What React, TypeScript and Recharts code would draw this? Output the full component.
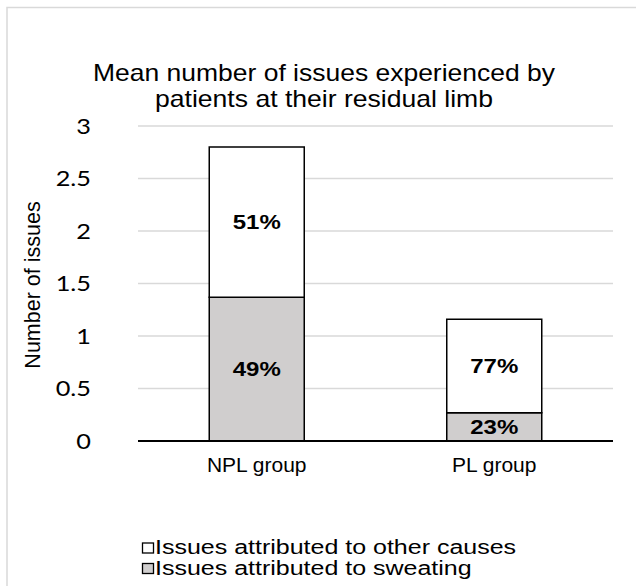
import * as React from 'react';
import { Bar, BarChart, CartesianGrid, LabelList, XAxis, YAxis } from 'recharts';

const groups = ['NPL group', 'PL group'];
const sweating = [1.37, 0.27];
const otherCauses = [1.43, 0.89];
const sweatingPct = ['49%', '23%'];
const otherPct = ['51%', '77%'];
const yTicks = [0, 0.5, 1, 1.5, 2, 2.5, 3];

const titleLines = [
  'Mean number of issues experienced by',
  'patients at their residual limb',
];
const legendItems = [
  { label: 'Issues attributed to other causes', fill: '#ffffff' },
  { label: 'Issues attributed to sweating', fill: '#d0cece' },
];

const data = groups.map((group, i) => ({
  group,
  sweating: sweating[i],
  other: otherCauses[i],
  sweatingPct: sweatingPct[i],
  otherPct: otherPct[i],
}));

const ARIAL = 'Arial, "Liberation Sans", sans-serif';
const SX = 1.15; // the reference text looks stretched sideways

const stretch = (x: number, y: number, k = SX) =>
  `translate(${x} ${y}) scale(${k} 1) translate(${-x} ${-y})`;

// y tick labels, Calibri-like
function YTick(props: any) {
  const { x, y, payload } = props;
  return (
    <text
      x={x}
      y={y}
      dy='0.36em'
      textAnchor='end'
      fontFamily='Lato, "Open Sans", sans-serif'
      fontSize={22}
      fill='#000'
      transform={stretch(x, y)}
    >
      {payload.value}
    </text>
  );
}

function XTick(props: any) {
  const { x, y, payload } = props;
  return (
    <text
      x={x}
      y={y}
      dy='0.71em'
      textAnchor='middle'
      fontFamily={ARIAL}
      fontSize={20}
      fill='#000'
      transform={stretch(x, y, 1.05)}
    >
      {payload.value}
    </text>
  );
}

function PctLabel(props: any) {
  const { x, y, width, height, value } = props;
  const cx = x + width / 2;
  const cy = y + height / 2;
  return (
    <text
      x={cx}
      y={cy}
      dy='0.35em'
      textAnchor='middle'
      fontFamily={ARIAL}
      fontWeight='bold'
      fontSize={20}
      fill='#000'
      transform={stretch(cx, cy, 1.2)}
    >
      {value}
    </text>
  );
}

export default function App() {
  return (
    <div
      style={{
        position: 'absolute',
        left: 0,
        top: 0,
        width: 636,
        height: 586,
        background: '#fff',
      }}
    >
      <BarChart
        width={636}
        height={586}
        data={data}
        margin={{ top: 126, right: 23, left: 78, bottom: 115 }}
        barCategoryGap='30%'
      >
        <CartesianGrid vertical={false} stroke='#d9d9d9' strokeWidth={1.5} />
        <XAxis
          dataKey='group'
          axisLine={{ stroke: '#000', strokeWidth: 2 }}
          tickLine={false}
          tickMargin={11}
          tick={<XTick />}
        />
        <YAxis
          width={60}
          domain={[0, 3]}
          ticks={yTicks}
          axisLine={false}
          tickLine={false}
          tickMargin={41}
          tick={<YTick />}
        />
        <Bar
          dataKey='sweating'
          stackId='a'
          fill='#d0cece'
          stroke='#000'
          strokeWidth={1.5}
          isAnimationActive={false}
        >
          <LabelList dataKey='sweatingPct' content={<PctLabel />} />
        </Bar>
        <Bar
          dataKey='other'
          stackId='a'
          fill='#ffffff'
          stroke='#000'
          strokeWidth={1.5}
          isAnimationActive={false}
        >
          <LabelList dataKey='otherPct' content={<PctLabel />} />
        </Bar>
      </BarChart>

      {/* title, axis title, legend and frame */}
      <svg
        width={636}
        height={586}
        style={{ position: 'absolute', left: 0, top: 0, pointerEvents: 'none' }}
      >
        <rect
          x={7}
          y={7.5}
          width={700}
          height={700}
          fill='none'
          stroke='#d9d9d9'
          strokeWidth={1.5}
        />
        <text
          x={324}
          y={81}
          textAnchor='middle'
          fontFamily={ARIAL}
          fontSize={24}
          textLength={462}
          lengthAdjust='spacingAndGlyphs'
        >
          {titleLines[0]}
        </text>
        <text
          x={324}
          y={107}
          textAnchor='middle'
          fontFamily={ARIAL}
          fontSize={24}
          textLength={338}
          lengthAdjust='spacingAndGlyphs'
        >
          {titleLines[1]}
        </text>
        <text
          transform={`translate(33 285) rotate(-90)`}
          textAnchor='middle'
          dominantBaseline='central'
          fontFamily={ARIAL}
          fontSize={21.5}
        >
          Number of issues
        </text>
        {legendItems.map((item, i) => (
          <g key={item.label}>
            <rect
              x={142.5}
              y={543 + i * 20.5}
              width={11}
              height={10}
              fill={item.fill}
              stroke='#000'
              strokeWidth={1.3}
            />
            <text
              x={155}
              y={554.5 + i * 20.5}
              fontFamily={ARIAL}
              fontSize={20}
              transform={stretch(155, 554.5 + i * 20.5, 1.25)}
            >
              {item.label}
            </text>
          </g>
        ))}
      </svg>
    </div>
  );
}
